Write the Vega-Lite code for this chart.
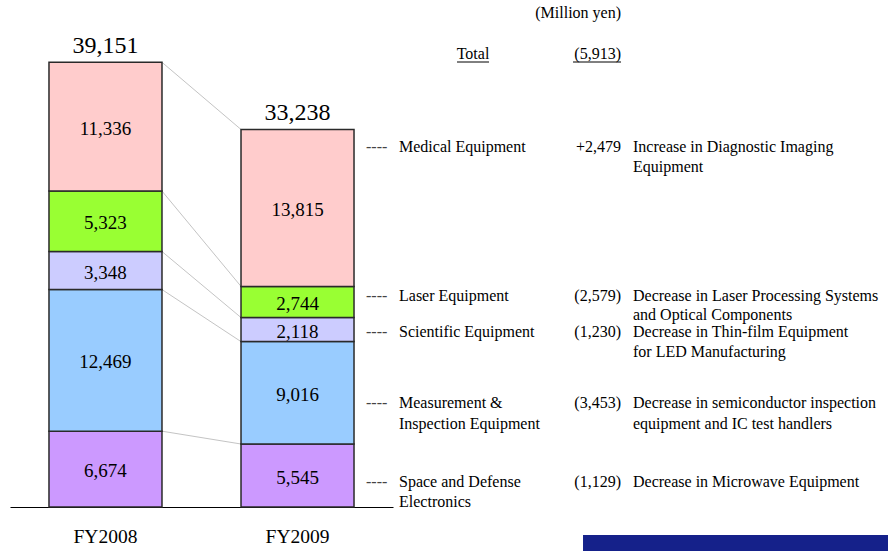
{
  "$schema": "https://vega.github.io/schema/vega-lite/v6.json",
  "width": 888,
  "height": 507,
  "autosize": {"type": "none"},
  "padding": {"left": 0, "top": 0, "right": 0, "bottom": 44},
  "background": "white",
  "config": {
    "view": {"stroke": null},
    "axisY": {"disable": true},
    "text": {"font": "Liberation Serif", "color": "#000000"}
  },
  "data": {
    "values": [
      {"year": "FY2008", "segment": "Space", "order": 1, "value": 6674},
      {"year": "FY2008", "segment": "Measurement", "order": 2, "value": 12469},
      {"year": "FY2008", "segment": "Scientific", "order": 3, "value": 3348},
      {"year": "FY2008", "segment": "Laser", "order": 4, "value": 5323},
      {"year": "FY2008", "segment": "Medical", "order": 5, "value": 11336},
      {"year": "FY2009", "segment": "Space", "order": 1, "value": 5545, "name": "Space and Defense\nElectronics", "change": "(1,129)", "note": "Decrease in Microwave Equipment"},
      {"year": "FY2009", "segment": "Measurement", "order": 2, "value": 9016, "name": "Measurement &\nInspection Equipment", "change": "(3,453)", "note": "Decrease in semiconductor inspection\nequipment and IC test handlers"},
      {"year": "FY2009", "segment": "Scientific", "order": 3, "value": 2118, "name": "Scientific Equipment", "change": "(1,230)", "note": "Decrease in Thin-film Equipment\nfor LED Manufacturing"},
      {"year": "FY2009", "segment": "Laser", "order": 4, "value": 2744, "name": "Laser Equipment", "change": "(2,579)", "note": "Decrease in Laser Processing Systems\nand Optical Components"},
      {"year": "FY2009", "segment": "Medical", "order": 5, "value": 13815, "name": "Medical Equipment", "change": "+2,479", "note": "Increase in Diagnostic Imaging\nEquipment"}
    ]
  },
  "layer": [
    {
      "transform": [
        {"stack": "value", "groupby": ["year"], "sort": [{"field": "order", "order": "ascending"}], "as": ["v0", "v1"]},
        {"pivot": "year", "value": "v1", "groupby": ["segment"]}
      ],
      "mark": {"type": "rule", "color": "#c4c4c4", "strokeWidth": 1},
      "encoding": {
        "x": {"datum": "FY2008", "type": "nominal", "bandPosition": 1},
        "x2": {"datum": "FY2009", "bandPosition": 0},
        "y": {"field": "FY2008", "type": "quantitative"},
        "y2": {"field": "FY2009"}
      }
    },
    {
      "mark": {"type": "bar", "stroke": "#2a2a2a", "strokeWidth": 1.5},
      "encoding": {
        "x": {
          "field": "year", "type": "nominal",
          "scale": {"type": "band", "domain": ["FY2008", "FY2009"], "range": [10, 393], "paddingInner": 0.4115, "paddingOuter": 0.203},
          "axis": {"title": null, "labelAngle": 0, "labelAlign": "center", "bandPosition": 0.5, "ticks": false, "tickSize": 0, "domainColor": "#000000", "domainWidth": 1, "labelFont": "Liberation Serif", "labelFontSize": 19.5, "labelColor": "#000000", "labelPadding": 20, "labelBaseline": "top"}
        },
        "y": {"field": "value", "type": "quantitative", "stack": "zero", "scale": {"domain": [0, 44635], "nice": false, "zero": false}, "axis": null},
        "color": {
          "field": "segment", "type": "nominal",
          "scale": {"domain": ["Space", "Measurement", "Scientific", "Laser", "Medical"], "range": ["#cc99ff", "#99ccff", "#ccccff", "#99ff33", "#ffcccc"]},
          "legend": null
        },
        "order": {"field": "order", "type": "quantitative"}
      }
    },
    {
      "mark": {"type": "text", "font": "Liberation Serif", "fontSize": 19, "baseline": "middle", "dy": 2},
      "encoding": {
        "x": {"field": "year", "type": "nominal"},
        "y": {"field": "value", "type": "quantitative", "stack": "zero", "bandPosition": 0.5, "axis": null},
        "detail": {"field": "segment"},
        "order": {"field": "order", "type": "quantitative"},
        "text": {"field": "value", "type": "quantitative", "format": ","}
      }
    },
    {
      "data": {"values": [{"year": "FY2008", "total": 39151}, {"year": "FY2009", "total": 33238}]},
      "mark": {"type": "text", "font": "Liberation Serif", "fontSize": 24, "baseline": "bottom", "dy": -4},
      "encoding": {
        "x": {"field": "year", "type": "nominal"},
        "y": {"field": "total", "type": "quantitative", "axis": null},
        "text": {"field": "total", "type": "quantitative", "format": ","}
      }
    },
    {
      "transform": [{"filter": "datum.year === 'FY2009'"}],
      "encoding": {
        "x": {"field": "year", "type": "nominal", "bandPosition": 1},
        "y": {"field": "value", "type": "quantitative", "stack": "zero", "bandPosition": 0.888, "axis": null},
        "detail": {"field": "segment"},
        "order": {"field": "order", "type": "quantitative"}
      },
      "layer": [
        {"mark": {"type": "text", "fontSize": 16, "baseline": "alphabetic", "dy": 5, "dx": 12, "align": "left", "color": "#444444"},
         "encoding": {"text": {"condition": {"test": "datum.segment === 'Medical'", "value": "----"}, "value": ""}}},
        {"mark": {"type": "text", "fontSize": 16, "baseline": "alphabetic", "dy": 5, "dx": 45, "align": "left", "lineBreak": "\n", "lineHeight": 20},
         "encoding": {"text": {"field": "name", "type": "nominal", "condition": {"test": "datum.segment !== 'Medical'", "value": ""}}}},
        {"mark": {"type": "text", "fontSize": 16, "baseline": "alphabetic", "dy": 5, "dx": 267, "align": "right"},
         "encoding": {"text": {"field": "change", "type": "nominal", "condition": {"test": "datum.segment !== 'Medical'", "value": ""}}}},
        {"mark": {"type": "text", "fontSize": 16, "baseline": "alphabetic", "dy": 5, "dx": 279, "align": "left", "lineBreak": "\n", "lineHeight": 20},
         "encoding": {"text": {"field": "note", "type": "nominal", "condition": {"test": "datum.segment !== 'Medical'", "value": ""}}}}
      ]
    },
    {
      "transform": [{"filter": "datum.year === 'FY2009'"}],
      "encoding": {
        "x": {"field": "year", "type": "nominal", "bandPosition": 1},
        "y": {"field": "value", "type": "quantitative", "stack": "zero", "bandPosition": 0.69, "axis": null},
        "detail": {"field": "segment"},
        "order": {"field": "order", "type": "quantitative"}
      },
      "layer": [
        {"mark": {"type": "text", "fontSize": 16, "baseline": "alphabetic", "dy": 5, "dx": 12, "align": "left", "color": "#444444"},
         "encoding": {"text": {"condition": {"test": "datum.segment === 'Laser'", "value": "----"}, "value": ""}}},
        {"mark": {"type": "text", "fontSize": 16, "baseline": "alphabetic", "dy": 5, "dx": 45, "align": "left", "lineBreak": "\n", "lineHeight": 19},
         "encoding": {"text": {"field": "name", "type": "nominal", "condition": {"test": "datum.segment !== 'Laser'", "value": ""}}}},
        {"mark": {"type": "text", "fontSize": 16, "baseline": "alphabetic", "dy": 5, "dx": 267, "align": "right"},
         "encoding": {"text": {"field": "change", "type": "nominal", "condition": {"test": "datum.segment !== 'Laser'", "value": ""}}}},
        {"mark": {"type": "text", "fontSize": 16, "baseline": "alphabetic", "dy": 5, "dx": 279, "align": "left", "lineBreak": "\n", "lineHeight": 19},
         "encoding": {"text": {"field": "note", "type": "nominal", "condition": {"test": "datum.segment !== 'Laser'", "value": ""}}}}
      ]
    },
    {
      "transform": [{"filter": "datum.year === 'FY2009'"}],
      "encoding": {
        "x": {"field": "year", "type": "nominal", "bandPosition": 1},
        "y": {"field": "value", "type": "quantitative", "stack": "zero", "bandPosition": 0.4, "axis": null},
        "detail": {"field": "segment"},
        "order": {"field": "order", "type": "quantitative"}
      },
      "layer": [
        {"mark": {"type": "text", "fontSize": 16, "baseline": "alphabetic", "dy": 5, "dx": 12, "align": "left", "color": "#444444"},
         "encoding": {"text": {"condition": {"test": "datum.segment === 'Medical' || datum.segment === 'Laser'", "value": ""}, "value": "----"}}},
        {"mark": {"type": "text", "fontSize": 16, "baseline": "alphabetic", "dy": 5, "dx": 45, "align": "left", "lineBreak": "\n", "lineHeight": 20.5},
         "encoding": {"text": {"field": "name", "type": "nominal", "condition": {"test": "datum.segment === 'Medical' || datum.segment === 'Laser'", "value": ""}}}},
        {"mark": {"type": "text", "fontSize": 16, "baseline": "alphabetic", "dy": 5, "dx": 267, "align": "right"},
         "encoding": {"text": {"field": "change", "type": "nominal", "condition": {"test": "datum.segment === 'Medical' || datum.segment === 'Laser'", "value": ""}}}},
        {"mark": {"type": "text", "fontSize": 16, "baseline": "alphabetic", "dy": 5, "dx": 279, "align": "left", "lineBreak": "\n", "lineHeight": 20.5},
         "encoding": {"text": {"field": "note", "type": "nominal", "condition": {"test": "datum.segment === 'Medical' || datum.segment === 'Laser'", "value": ""}}}}
      ]
    },
    {
      "data": {"values": [{"label": "(Million yen)"}]},
      "mark": {"type": "text", "fontSize": 16, "baseline": "alphabetic", "dy": 5, "dx": 267, "align": "right"},
      "encoding": {
        "x": {"datum": "FY2009", "type": "nominal", "bandPosition": 1},
        "y": {"datum": 43490, "type": "quantitative"},
        "text": {"field": "label", "type": "nominal"}
      }
    },
    {
      "data": {"values": [{"label": "Total", "change": "(5,913)"}]},
      "encoding": {
        "x": {"datum": "FY2009", "type": "nominal", "bandPosition": 1},
        "y": {"datum": 39880, "type": "quantitative"}
      },
      "layer": [
        {"mark": {"type": "text", "fontSize": 16, "baseline": "alphabetic", "dy": 5, "dx": 119, "align": "center"},
         "encoding": {"text": {"field": "label", "type": "nominal"}}},
        {"mark": {"type": "text", "fontSize": 16, "baseline": "alphabetic", "dy": 5, "dx": 267, "align": "right"},
         "encoding": {"text": {"field": "change", "type": "nominal"}}}
      ]
    },
    {
      "data": {"values": [{"label": "Total"}]},
      "encoding": {
        "x": {"datum": "FY2009", "type": "nominal", "bandPosition": 1},
        "x2": {"datum": "FY2009", "bandPosition": 1},
        "y": {"datum": 39176, "type": "quantitative"}
      },
      "layer": [
        {"mark": {"type": "rule", "color": "#000000", "strokeWidth": 1, "xOffset": 103, "x2Offset": 135}},
        {"mark": {"type": "rule", "color": "#000000", "strokeWidth": 1, "xOffset": 219, "x2Offset": 267}}
      ]
    },
    {
      "data": {"values": [{"label": "footer"}]},
      "mark": {"type": "rect", "color": "#15218a", "xOffset": 229, "x2Offset": 540},
      "encoding": {
        "x": {"datum": "FY2009", "type": "nominal", "bandPosition": 1},
        "x2": {"datum": "FY2009", "bandPosition": 1},
        "y": {"datum": -2465, "type": "quantitative"},
        "y2": {"datum": -6000}
      }
    }
  ]
}
